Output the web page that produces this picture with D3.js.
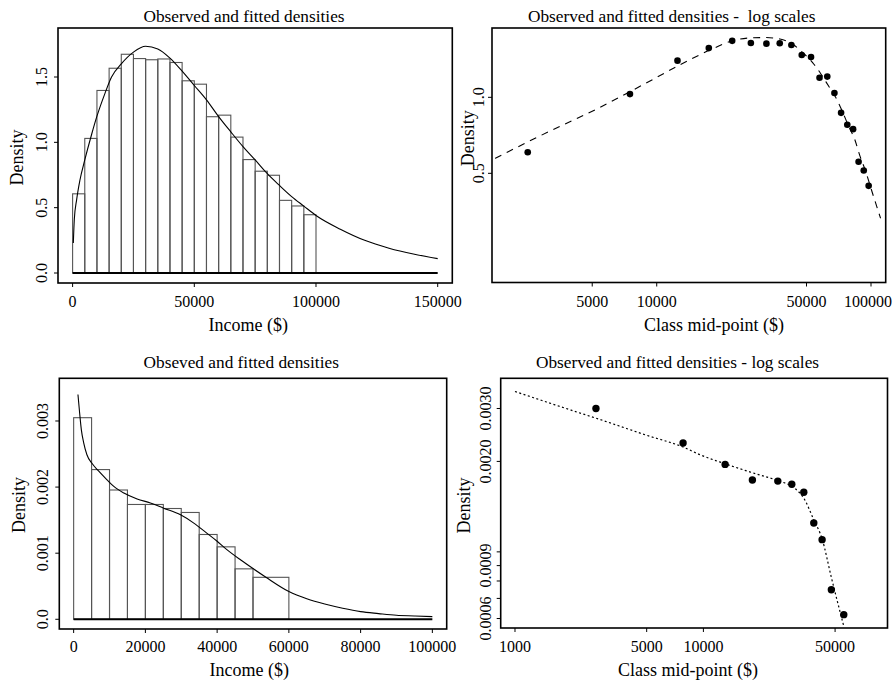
<!DOCTYPE html>
<html><head><meta charset="utf-8">
<script src="https://cdn.jsdelivr.net/npm/d3@7"></script>
<style>
body{margin:0;background:#fff}
text{font-family:"Liberation Serif","Times New Roman","DejaVu Serif",serif;fill:#000}
</style>
</head><body>
<svg id="c" width="893" height="682"></svg>
<script>
// ---------- DATA ----------
// Panel 1: histogram of income (density scaled), bins of 5000
const hist1Edges = [0,5000,10000,15000,20000,25000,30000,35000,40000,45000,50000,55000,60000,65000,70000,75000,80000,85000,90000,95000,100000];
const hist1Heights = [0.606,1.030,1.397,1.567,1.674,1.641,1.632,1.638,1.611,1.471,1.445,1.196,1.208,1.040,0.868,0.779,0.748,0.556,0.513,0.446];
// fitted density (linear panel)
const fit1X = [300,700,1650,3000,5000,7800,10000,13300,16000,20000,25000,30000,35000,40000,45000,50000,55000,60000,65000,70000,75000,80000,85000,90000,95000,100000,110000,120000,130000,140000,150000];
const fit1Y = [0.23,0.41,0.56,0.71,0.865,1.06,1.20,1.375,1.50,1.60,1.69,1.735,1.715,1.645,1.545,1.435,1.325,1.197,1.08,0.967,0.865,0.76,0.67,0.585,0.512,0.44,0.335,0.25,0.19,0.145,0.11];
// Panel 2: class mid-points vs observed density (log scales)
const mid1 = [2500,7500,12500,17500,22500,27500,32500,37500,42500,47500,52500,57500,62500,67500,72500,77500,82500,87500,92500,97500];
const fit2X = [1760,2800,5440,10000,12700,17700,22800,28200,32000,37600,43000,48300,53500,58500,63400,68500,73600,78700,83800,89000,94300,99200,110800];
const fit2Y = [0.573,0.698,0.913,1.20,1.339,1.539,1.679,1.722,1.725,1.702,1.626,1.497,1.37,1.235,1.108,0.998,0.877,0.767,0.684,0.582,0.511,0.445,0.332];
// Panel 3: second histogram
const hist2Edges = [0,5000,10000,15000,20000,25000,30000,35000,40000,45000,50000,60000];
const hist2Heights = [0.003050,0.002265,0.001956,0.001737,0.001737,0.001676,0.001616,0.001283,0.001096,0.000763,0.000635];
const fit3X = [1200,1670,2140,2800,3700,5100,7000,9300,11200,14000,17700,21400,25100,29800,33500,37200,40000,42800,46500,50200,53600,60000,65000,70000,75000,80000,85000,90000,95000,100000];
const fit3Y = [0.00340,0.00312,0.00287,0.00267,0.00249,0.00236,0.00224,0.00211,0.00201,0.00191,0.00182,0.00176,0.00168,0.00158,0.001455,0.00130,0.00118,0.00105,0.00090,0.00076,0.000636,0.00042,0.00031,0.00023,0.000167,0.000116,0.000086,0.00006,0.00005,0.00004];
// Panel 4: points and fit (log scales)
const mid2 = [2690,7800,13040,18200,24830,29450,34110,38540,42660,47780,55600];
const obs2 = [0.00300,0.002302,0.001955,0.001734,0.00172,0.001678,0.001579,0.001248,0.001098,0.000748,0.000618];
const fit4X = [1000,2000,2690,5000,7800,9600,13000,18200,24800,29500,32000,34100,38500,42700,47800,55600];
const fit4Y = [0.003417,0.002958,0.002786,0.002443,0.002233,0.002105,0.001965,0.001834,0.001726,0.001652,0.001586,0.001509,0.00128,0.001103,0.000821,0.000566];
// tick values / labels
const xTicks1 = [0,50000,100000,150000];
const yTicks1 = [0,0.5,1.0,1.5];
const yTickLabels1 = ["0.0","0.5","1.0","1.5"];
const xTicks2 = [5000,10000,50000,100000];
const yTicks2 = [0.5,1.0];
const yTickLabels2 = ["0.5","1.0"];
const xTicks3 = [0,20000,40000,60000,80000,100000];
const yTicks3 = [0,0.001,0.002,0.003];
const yTickLabels3 = ["0.0","0.001","0.002","0.003"];
const xTicks4 = [1000,5000,10000,50000];
const yTicks4 = [0.003,0.002,0.001,0.0009,0.0008,0.0007,0.0006];
const yTickLabels4 = ["0.0030","0.0020","","0.0009","","","0.0006"];
const titles = ["Observed and fitted densities","Observed and fitted densities -  log scales","Obseved and fitted densities","Observed and fitted densities - log scales"];
const xLabels = ["Income ($)","Class mid-point ($)","Income ($)","Class mid-point ($)"];
const yLabel = "Density";

// ---------- DRAW ----------
const svg = d3.select("#c");
const TICK = 16, TITLE = 17.3, LAB = 18;

function frame(x, y){
  const [l,r] = x.range(), [b,t] = y.range();
  svg.append("rect").attr("x",l).attr("y",t).attr("width",r-l).attr("height",b-t)
    .attr("fill","none").attr("stroke","#000").attr("stroke-width",1.6);
}
function xAxis(x, y, vals, labY){
  const b = y.range()[0];
  vals.forEach(v=>{
    svg.append("line").attr("x1",x(v)).attr("x2",x(v)).attr("y1",b).attr("y2",b+4).attr("stroke","#000").attr("stroke-width",1);
    const t = svg.append("text").attr("x",x(v)).attr("y",labY).attr("dy","0.35em").attr("text-anchor","middle")
      .attr("font-size",TICK).text(v);
    const w = t.node().getComputedTextLength();
    if (x(v) + w/2 > 892) t.attr("x", 892 - w/2);
  });
}
function yAxis(x, y, vals, labels, labX){
  const l = x.range()[0];
  vals.forEach((v,i)=>{
    svg.append("line").attr("x1",l-4).attr("x2",l).attr("y1",y(v)).attr("y2",y(v)).attr("stroke","#000").attr("stroke-width",1);
    if(labels[i]) svg.append("text").attr("transform",`translate(${labX},${y(v)}) rotate(-90)`)
      .attr("dy","0.35em").attr("text-anchor","middle").attr("font-size",TICK).text(labels[i]);
  });
}
function texts(title, tpos, xl, xpos, ypos){
  svg.append("text").attr("x",tpos[0]).attr("y",tpos[1]).attr("dy","0.35em").attr("text-anchor","middle")
    .attr("font-size",TITLE).style("white-space","pre").text(title);
  svg.append("text").attr("x",xpos[0]).attr("y",xpos[1]).attr("dy","0.35em").attr("text-anchor","middle")
    .attr("font-size",LAB).text(xl);
  svg.append("text").attr("transform",`translate(${ypos[0]},${ypos[1]}) rotate(-90)`).attr("dy","0.35em")
    .attr("text-anchor","middle").attr("font-size",LAB).text(yLabel);
}
function clip(id, x, y){
  const [l,r] = x.range(), [b,t] = y.range();
  svg.append("clipPath").attr("id",id).append("rect").attr("x",l).attr("y",t).attr("width",r-l).attr("height",b-t);
}
function hist(x, y, edges, heights){
  heights.forEach((h,i)=>{
    svg.append("rect").attr("x",x(edges[i])).attr("width",x(edges[i+1])-x(edges[i]))
      .attr("y",y(h)).attr("height",y(0)-y(h))
      .attr("fill","none").attr("stroke","#555").attr("stroke-width",1.1);
  });
}
function curve(x, y, xs, ys, dash, clipId, w){
  const line = d3.line().x(d=>x(d[0])).y(d=>y(d[1])).curve(d3.curveMonotoneX);
  const p = svg.append("path").datum(xs.map((v,i)=>[v,ys[i]])).attr("d",line)
    .attr("fill","none").attr("stroke","#000").attr("stroke-width",w||1);
  if(dash) p.attr("stroke-dasharray",dash);
  if(clipId) p.attr("clip-path",`url(#${clipId})`);
}

// Panel 1
const x1 = d3.scaleLinear().domain([-6000,156000]).range([58,452.3]);
const y1 = d3.scaleLinear().domain([-0.0765,1.875]).range([283,28]);
hist(x1,y1,hist1Edges,hist1Heights);
svg.append("line").attr("x1",x1(0)).attr("x2",x1(150000)).attr("y1",y1(0)).attr("y2",y1(0)).attr("stroke","#000").attr("stroke-width",2);
curve(x1,y1,fit1X,fit1Y,null,null,1.1);
frame(x1,y1);
xAxis(x1,y1,xTicks1,301.7);
yAxis(x1,y1,yTicks1,yTickLabels1,41.7);
texts(titles[0],[244,16],xLabels[0],[248.3,325],[17,157.5]);

// Panel 2
const x2 = d3.scaleLog().domain([1703,117100]).range([492,885.7]);
const y2 = d3.scaleLog().domain([0.1847,1.882]).range([282.5,28]);
clip("cp2",x2,y2);
curve(x2,y2,fit2X,fit2Y,"7,6","cp2",1.1);
mid1.forEach((m,i)=>svg.append("circle").attr("cx",x2(m)).attr("cy",y2(hist1Heights[i])).attr("r",3.3).attr("fill","#000"));
frame(x2,y2);
xAxis(x2,y2,xTicks2,301.7);
yAxis(x2,y2,yTicks2,yTickLabels2,478.3);
texts(titles[1],[671.7,16],xLabels[1],[714,325],[467.5,138.3]);

// Panel 3
const x3 = d3.scaleLinear().domain([-4000,104000]).range([59.3,446.7]);
const y3 = d3.scaleLinear().domain([-0.000147,0.003646]).range([629,378.3]);
hist(x3,y3,hist2Edges,hist2Heights);
svg.append("line").attr("x1",x3(0)).attr("x2",x3(100000)).attr("y1",y3(0)).attr("y2",y3(0)).attr("stroke","#000").attr("stroke-width",2);
curve(x3,y3,fit3X,fit3Y,null,null,1.1);
frame(x3,y3);
xAxis(x3,y3,xTicks3,646.7);
yAxis(x3,y3,yTicks3,yTickLabels3,42.5);
texts(titles[2],[241.2,361.7],xLabels[2],[249.3,670],[18.3,505]);

// Panel 4
const x4 = d3.scaleLog().domain([839.7,94880]).range([500.7,887.5]);
const y4 = d3.scaleLog().domain([0.000558,0.003781]).range([628,378.3]);
clip("cp4",x4,y4);
curve(x4,y4,fit4X,fit4Y,"2,2.5","cp4",1.2);
mid2.forEach((m,i)=>svg.append("circle").attr("cx",x4(m)).attr("cy",y4(obs2[i])).attr("r",3.7).attr("fill","#000"));
frame(x4,y4);
xAxis(x4,y4,xTicks4,646.7);
yAxis(x4,y4,yTicks4,yTickLabels4,485);
texts(titles[3],[677.5,362.3],xLabels[3],[688,670],[463.3,505.5]);
</script>
</body></html>
